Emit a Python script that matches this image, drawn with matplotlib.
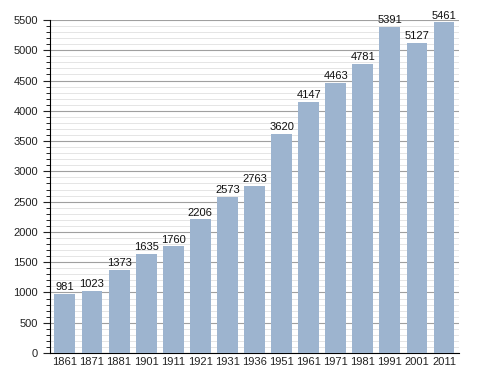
import matplotlib
matplotlib.use("Agg")
import matplotlib.pyplot as plt
from matplotlib.ticker import MultipleLocator

plt.rcParams["font.family"] = ["Liberation Sans", "DejaVu Sans"]

years = ["1861", "1871", "1881", "1901", "1911", "1921", "1931", "1936", "1951",
         "1961", "1971", "1981", "1991", "2001", "2011"]
population = [981, 1023, 1373, 1635, 1760, 2206, 2573, 2763, 3620,
              4147, 4463, 4781, 5391, 5127, 5461]

fig = plt.figure(figsize=(4.88, 3.73), dpi=100)
ax = fig.add_axes([0.1025, 0.0536, 0.838, 0.8928])

x = range(len(years))
ax.bar(x, population, width=0.77, color="#9db4cf", zorder=3)
for xi, v in zip(x, population):
    ax.text(xi, v + 30, str(v), ha="center", va="bottom", fontsize=8, color="#111111", zorder=4)

ax.set_xlim(-0.55, len(years) - 0.45)
ax.set_ylim(0, 5500)
ax.set_xticks(list(x))
ax.set_xticklabels(years, fontsize=8)
ax.yaxis.set_major_locator(MultipleLocator(500))
ax.yaxis.set_minor_locator(MultipleLocator(100))
ax.tick_params(axis="y", which="major", length=5, direction="out", labelsize=8, width=0.8, colors="#222222")
ax.tick_params(axis="y", which="minor", length=3, direction="out", width=0.6)
ax.tick_params(axis="x", length=0, labelsize=8, pad=3, colors="#222222")
ax.grid(axis="y", which="major", color="#a0a0a0", linewidth=0.8, zorder=0)
ax.grid(axis="y", which="minor", color="#e0e0e0", linewidth=0.6, zorder=0)
for s in ["top", "right"]:
    ax.spines[s].set_visible(False)
ax.spines["left"].set_color("black")
ax.spines["bottom"].set_color("black")

fig.savefig("out.png", dpi=100)
